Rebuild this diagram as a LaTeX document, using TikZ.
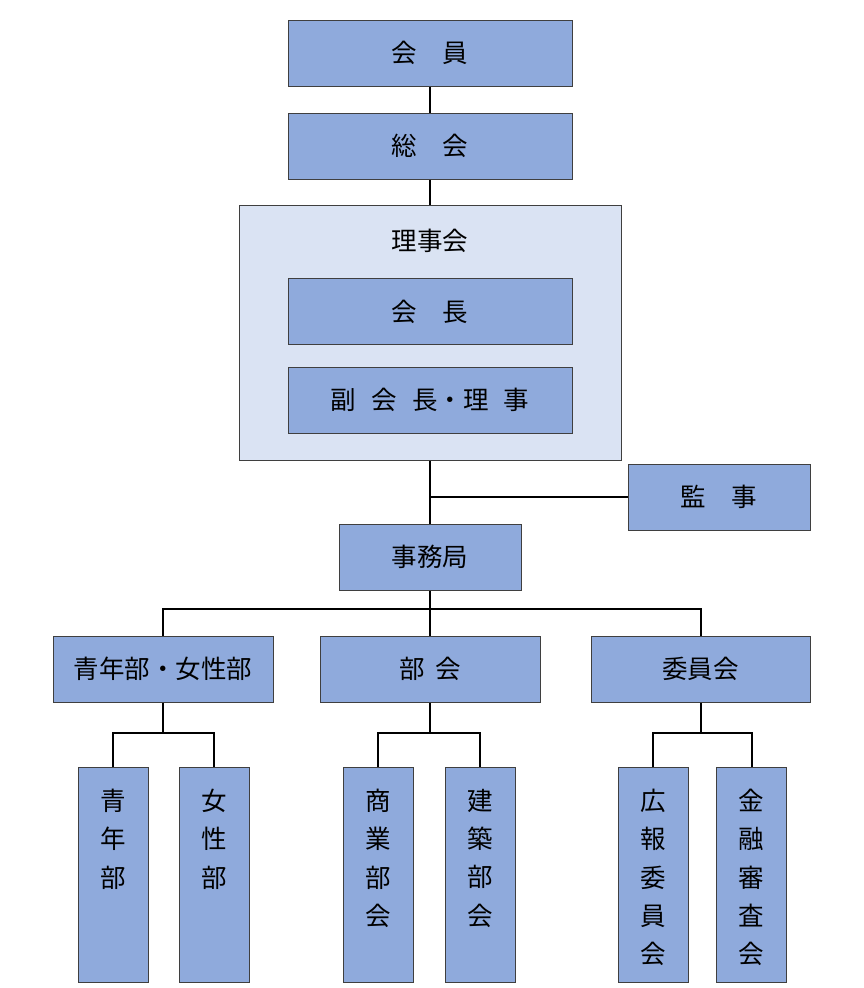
\documentclass[tikz,border=0pt]{standalone}
\usepackage{fontspec}
\newfontfamily\jpfont{Noto Sans CJK JP}
\usetikzlibrary{calc}

\definecolor{boxfill}{HTML}{8FAADC}
\definecolor{boardfill}{HTML}{DAE3F3}
\definecolor{boxline}{HTML}{3F3F3F}

\tikzset{
    unit/.style={draw=boxline,fill=boxfill,line width=1pt,inner sep=0pt,
        minimum width=284pt,minimum height=66pt,
        font=\jpfont\fontsize{25.5}{30}\selectfont},
    board/.style={draw=boxline,fill=boardfill,line width=1pt,inner sep=0pt,
        minimum width=382pt,minimum height=255pt},
    tallbox/.style={draw=boxline,fill=boxfill,line width=1pt,inner sep=0pt,
        minimum width=70pt,minimum height=215pt,anchor=north},
    vtext/.style={align=center,anchor=north,inner sep=0pt,
        font=\jpfont\fontsize{25.5}{38.2}\selectfont},
    link/.style={line width=2pt,black}
}

\begin{document}
\begin{tikzpicture}[x=1pt,y=-1pt]
    \useasboundingbox (0,0) rectangle (863,988);

    \node[unit] (kaiin) at (430,53) {会　員};
    \node[unit] (soukai) at (430,146) {総　会};
    \node[board] (rijikai) at (430,332.5) {};
    \node[font=\jpfont\fontsize{25.5}{30}\selectfont] (rijikaititle) at (430,241) {理事会};
    \node[unit] (kaicho) at (430,311.5) {会　長};
    \node[unit] (fukukaicho) at (430,400) {副\hspace{.6em}会\hspace{.6em}長・理\hspace{.6em}事};
    \node[unit,minimum width=182pt] (kanji) at (719,497) {監　事};
    \node[unit,minimum width=182pt] (jimukyoku) at (430,557) {事務局};

    \node[unit,minimum width=220pt] (seijo) at (163,669) {青年部・女性部};
    \node[unit,minimum width=220pt] (bukai) at (430,669) {部\hspace{.4em}会};
    \node[unit,minimum width=219pt] (iinkai) at (700.5,669) {委員会};

    % vertical boxes
    \foreach \name/\x/\txt in {seinen/113/{青\\年\\部},josei/214/{女\\性\\部},
            shogyo/378/{商\\業\\部\\会},kenchiku/480/{建\\築\\部\\会},
            koho/653/{広\\報\\委\\員\\会},kinyu/751.5/{金\\融\\審\\査\\会}}{
        \node[tallbox] (\name) at (\x,767) {};
        \node[vtext] (\name text) at (\x,789) {\txt};
    }

    \draw[link] (kaiin) -- (soukai);
    \draw[link] (soukai) -- (rijikai);
    \draw[link] (rijikai) -- (jimukyoku);
    \draw[link] (kanji.west) -- (kanji.west -| rijikai.south);

    \coordinate (bus) at (430,609);
    \draw[link] (jimukyoku.south) -- (bus);
    \draw[link] (seijo.north) |- (bus) -| (iinkai.north);
    \draw[link] (bus) -- (bukai.north);

    \draw[link] (seijo) -- ($(seijo.south)+(0,30)$);
    \draw[link] (seinen.north) |- ($(seijo.south)+(0,30)$) -| (josei.north);
    \draw[link] (bukai) -- ($(bukai.south)+(0,30)$);
    \draw[link] (shogyo.north) |- ($(bukai.south)+(0,30)$) -| (kenchiku.north);
    \draw[link] (iinkai) -- ($(iinkai.south)+(0,30)$);
    \draw[link] (koho.north) |- ($(iinkai.south)+(0,30)$) -| (kinyu.north);
\end{tikzpicture}
\end{document}
